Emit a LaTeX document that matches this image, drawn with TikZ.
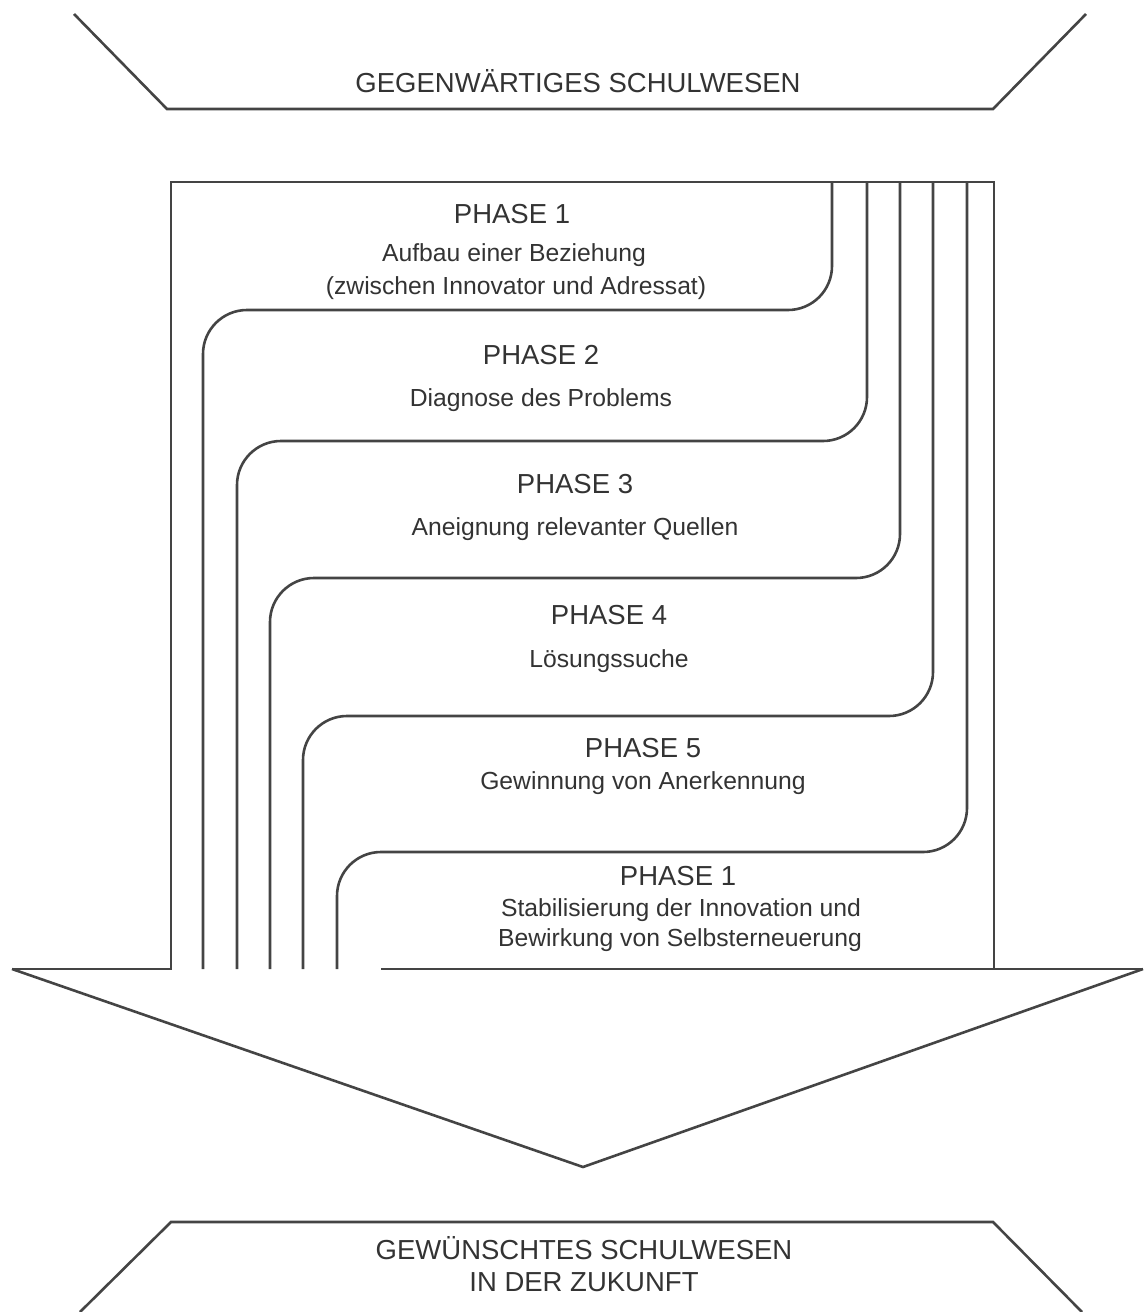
\documentclass[tikz,border=0pt]{standalone}
\usepackage{fontspec}
\setmainfont{Liberation Sans}
\definecolor{ink}{HTML}{444444}
\definecolor{txt}{HTML}{333333}
\begin{document}
\begin{tikzpicture}[x=1pt,y=-1pt,
  ln/.style={draw=ink,line width=2.6pt,line join=miter},
  flow/.style={ln,rounded corners=44pt},
  caps/.style={anchor=base,text=txt,inner sep=0pt,font=\fontsize{27.5}{32}\selectfont},
  lower/.style={anchor=base,text=txt,inner sep=0pt,font=\fontsize{24.7}{29}\selectfont}]
\useasboundingbox (0,0) rectangle (1144,1312);
% top trapezoid
\draw[ln] (74,14) -- (167,109) -- (993,109) -- (1086,14);
\node[caps] (top) at (578,92) {GEGENWÄRTIGES SCHULWESEN};
% main box
\draw[ln] (12,969) -- (171,969) -- (171,182) -- (994,182) -- (994,969);
\draw[ln] (381,969) -- (1143,969);
% arrow head
\draw[ln] (12,969) -- (583,1167) -- (1143,969);
% phase separators
\draw[flow] (832,182) -- (832,310) -- (203,310) -- (203,969);
\draw[flow] (867,182) -- (867,441) -- (237,441) -- (237,969);
\draw[flow] (900,182) -- (900,578) -- (270,578) -- (270,969);
\draw[flow] (933,182) -- (933,716) -- (303,716) -- (303,969);
\draw[flow] (967,182) -- (967,852) -- (337,852) -- (337,969);
% texts
\node[caps] (p1) at (512,223) {PHASE 1};
\node[lower] (p1a) at (514,261) {Aufbau einer Beziehung};
\node[lower] (p1b) at (516,294) {(zwischen Innovator und Adressat)};
\node[caps] (p2) at (541,364) {PHASE 2};
\node[lower] (p2a) at (541,406) {Diagnose des Problems};
\node[caps] (p3) at (575,493) {PHASE 3};
\node[lower] (p3a) at (575,535) {Aneignung relevanter Quellen};
\node[caps] (p4) at (609,624) {PHASE 4};
\node[lower] (p4a) at (609,667) {Lösungssuche};
\node[caps] (p5) at (643,757) {PHASE 5};
\node[lower] (p5a) at (643,789) {Gewinnung von Anerkennung};
\node[caps] (p6) at (678,885) {PHASE 1};
\node[lower] (p6a) at (681,916) {Stabilisierung der Innovation und};
\node[lower] (p6b) at (680,946) {Bewirkung von Selbsterneuerung};
% bottom trapezoid
\draw[ln] (80,1312) -- (171,1222) -- (993,1222) -- (1082,1312);
\node[caps] (b1) at (584,1259) {GEWÜNSCHTES SCHULWESEN};
\node[caps] (b2) at (584,1291) {IN DER ZUKUNFT};
\end{tikzpicture}
\end{document}
